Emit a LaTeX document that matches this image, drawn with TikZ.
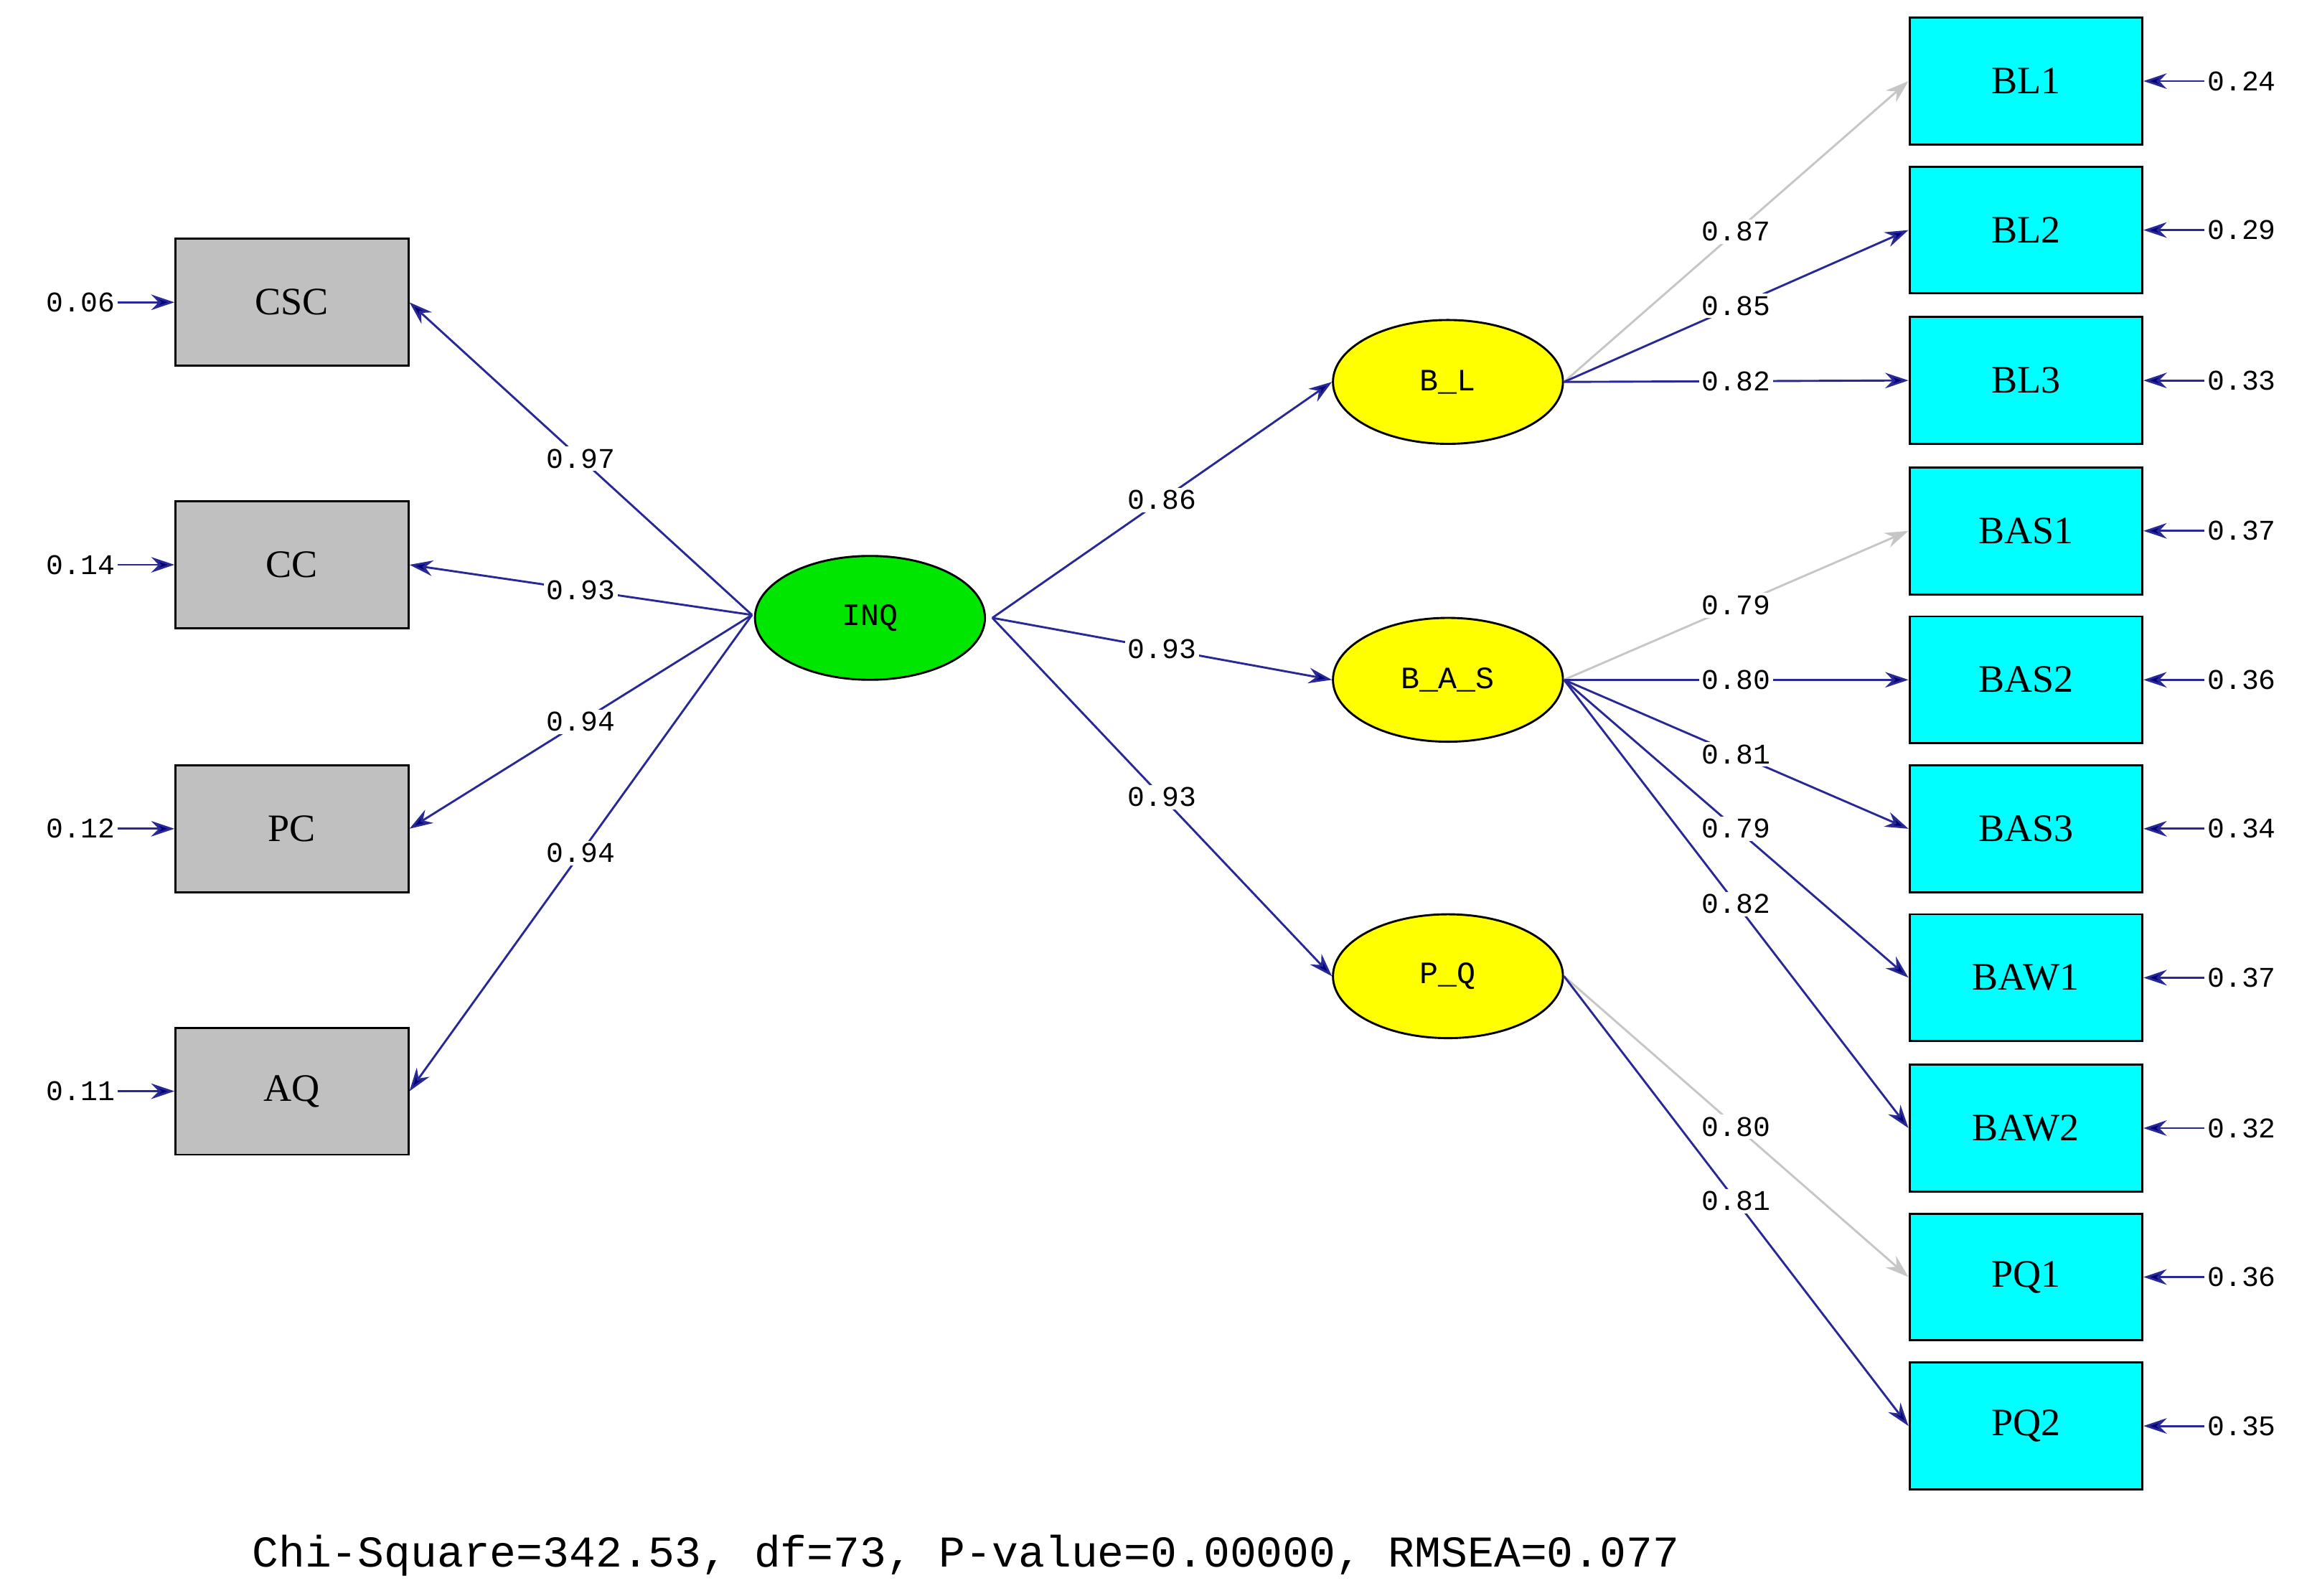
\documentclass[tikz,border=0pt]{standalone}
\usepackage{fontspec}
\setmainfont{Liberation Serif}
\setmonofont{Liberation Mono}
\usetikzlibrary{arrows.meta,shapes.geometric}
\definecolor{pathc}{RGB}{40,40,150}
\definecolor{headc}{RGB}{0,0,120}
\definecolor{cyanb}{RGB}{0,255,255}
\definecolor{grayb}{RGB}{192,192,192}
\definecolor{greene}{RGB}{0,230,0}
\definecolor{yellowe}{RGB}{255,255,0}
\begin{document}
\begin{tikzpicture}[x=0.02cm,y=-0.02cm,
  box/.style={draw=black,line width=0.8pt,minimum width=3.16cm,minimum height=1.72cm,font=\fontsize{15}{15}\selectfont},
  lat/.style={ellipse,draw=black,line width=0.8pt,minimum width=3.12cm,minimum height=1.68cm,font=\ttfamily\fontsize{12}{12}\selectfont},
  arr/.style={draw=pathc,line width=0.8pt,-{Stealth[length=9pt,width=6pt,fill=headc]}},
  garr/.style={draw=gray!45,line width=0.8pt,-{Stealth[length=9pt,width=6pt,fill=gray!45]}},
  lab/.style={fill=white,inner sep=1pt,font=\ttfamily\fontsize{11}{11}\selectfont},
  elab/.style={font=\ttfamily\fontsize{11}{11}\selectfont,inner sep=1pt}]
\useasboundingbox (0,0) rectangle (1568,1082);
% left boxes
\foreach \n/\y/\e in {CSC/205/0.06,CC/383/0.14,PC/562/0.12,AQ/740/0.11}{
  \node[box,fill=grayb] (\n) at (198,\y) {\n};
  \node[elab,anchor=east] (e\n) at (80,\y) {\e};
  \draw[arr] (e\n.east) -- (\n.west);
}
% latent
\node[lat,fill=greene] (INQ) at (590,419) {INQ};
\node[lat,fill=yellowe] (BL) at (982,259) {B\_L};
\node[lat,fill=yellowe] (BAS) at (982,461) {B\_A\_S};
\node[lat,fill=yellowe] (PQ) at (982,662) {P\_Q};
% right boxes
\foreach \n/\y/\e in {BL1/55/0.24,BL2/156/0.29,BL3/258/0.33,BAS1/360/0.37,BAS2/461/0.36,BAS3/562/0.34,BAW1/663/0.37,BAW2/765/0.32,PQ1/866/0.36,PQ2/967/0.35}{
  \node[box,fill=cyanb] (\n) at (1374,\y) {\n};
  \node[elab,anchor=west] (e\n) at (1495,\y) {\e};
  \draw[arr] (e\n.west) -- (\n.east);
}
% INQ paths
\coordinate (iw) at (510,417);
\coordinate (ie) at (673,419);
\draw[arr] (iw) -- node[lab]{0.97} (CSC.east);
\draw[arr] (iw) -- node[lab]{0.93} (CC.east);
\draw[arr] (iw) -- node[lab]{0.94} (PC.east);
\draw[arr] (iw) -- node[lab]{0.94} (AQ.east);
\draw[arr] (ie) -- node[lab]{0.86} (BL.west);
\draw[arr] (ie) -- node[lab]{0.93} (BAS.west);
\draw[arr] (ie) -- node[lab]{0.93} (PQ.west);
% loadings
\draw[garr] (BL.east) -- node[lab]{0.87} (BL1.west);
\draw[arr] (BL.east) -- node[lab]{0.85} (BL2.west);
\draw[arr] (BL.east) -- node[lab]{0.82} (BL3.west);
\draw[garr] (BAS.east) -- node[lab]{0.79} (BAS1.west);
\draw[arr] (BAS.east) -- node[lab]{0.80} (BAS2.west);
\draw[arr] (BAS.east) -- node[lab]{0.81} (BAS3.west);
\draw[arr] (BAS.east) -- node[lab]{0.79} (BAW1.west);
\draw[arr] (BAS.east) -- node[lab]{0.82} (BAW2.west);
\draw[garr] (PQ.east) -- node[lab]{0.80} (PQ1.west);
\draw[arr] (PQ.east) -- node[lab]{0.81} (PQ2.west);
\node[font=\ttfamily\fontsize{17}{17}\selectfont] (chi) at (655,1055) {Chi-Square=342.53, df=73, P-value=0.00000, RMSEA=0.077};
\end{tikzpicture}
\end{document}
